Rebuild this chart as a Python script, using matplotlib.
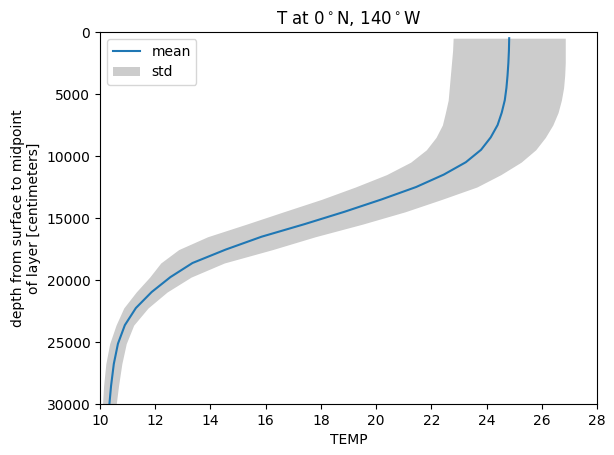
import matplotlib
matplotlib.use("Agg")
import matplotlib.pyplot as plt
import numpy as np

depth = [500, 1500, 2500, 3500, 4500, 5500, 6500, 7500, 8500, 9500,
         10500, 11500, 12500, 13500, 14500, 15500, 16509.84, 17547.9,
         18629.13, 19766.03, 20971.14, 22257.83, 23640.88, 25137.02,
         26765.42, 28548.37, 30511.92]
mean_t = [24.82, 24.81, 24.79, 24.76, 24.72, 24.66, 24.55, 24.40, 24.15, 23.80,
          23.25, 22.45, 21.45, 20.20, 18.85, 17.40, 15.85, 14.55,
          13.35, 12.55, 11.87, 11.30, 10.90, 10.65,
          10.50, 10.40, 10.32]
std_t = [2.03, 2.04, 2.06, 2.07, 2.07, 2.05, 2.04, 2.00, 1.98, 1.98,
         2.00, 2.07, 2.20, 2.18, 2.20, 2.10, 1.95, 1.70,
         1.15, 0.75, 0.56, 0.44, 0.32, 0.30,
         0.29, 0.27, 0.24]

title = r"T at 0$^\circ$N, 140$^\circ$W"
xlabel = "TEMP"
ylabel = "depth from surface to midpoint\nof layer [centimeters]"

z = np.array(depth)
m = np.array(mean_t)
s = np.array(std_t)

fig = plt.figure(figsize=(6.14, 4.55), dpi=100)
ax = fig.add_axes([100/614, 1-404/455, (597-100)/614, (404-32)/455])
ax.fill_betweenx(z, m - s, m + s, color="#cccccc", linewidth=0, label="std")
ax.plot(m, z, color="#1f77b4", label="mean")
ax.set_xlim(10, 28)
ax.set_ylim(30000, 0)
ax.set_xticks(np.arange(10, 29, 2))
ax.set_yticks(np.arange(0, 30001, 5000))
ax.set_title(title)
ax.set_xlabel(xlabel)
ax.set_ylabel(ylabel)
h, l = ax.get_legend_handles_labels()
ax.legend([h[1], h[0]], [l[1], l[0]], loc="upper left")
fig.savefig("out.png", dpi=100)
